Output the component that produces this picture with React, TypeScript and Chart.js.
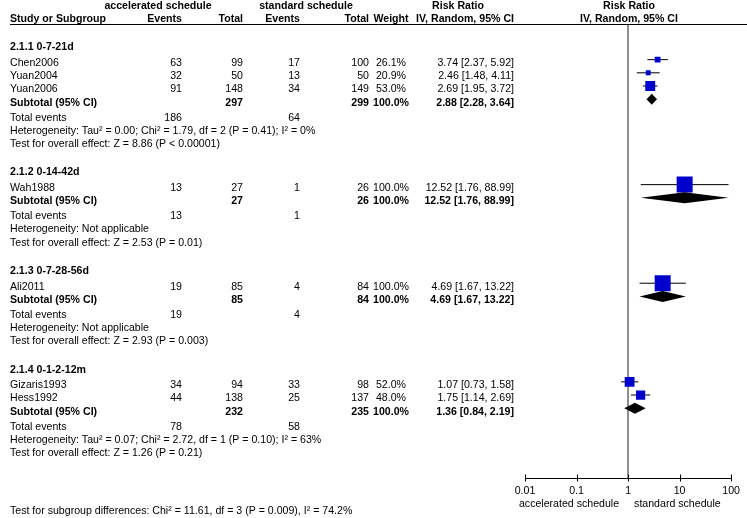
import React, { useEffect, useRef } from 'react';
import { Chart, registerables } from 'chart.js';

Chart.register(...registerables);

// ---------------- data ----------------
const groupLabels = ['2.1.1 0-7-21d', '2.1.2 0-14-42d', '2.1.3 0-7-28-56d', '2.1.4 0-1-2-12m'];

const studies = ['Chen2006', 'Yuan2004', 'Yuan2006', 'Wah1988', 'Ali2011', 'Gizaris1993', 'Hess1992'];
const studyGroup = [0, 0, 0, 1, 2, 3, 3];
const accelEvents = [63, 32, 91, 13, 19, 34, 44];
const accelTotal = [99, 50, 148, 27, 85, 94, 138];
const stdEvents = [17, 13, 34, 1, 4, 33, 25];
const stdTotal = [100, 50, 149, 26, 84, 98, 137];
const weights = [26.1, 20.9, 53.0, 100.0, 100.0, 52.0, 48.0];
const rr = [3.74, 2.46, 2.69, 12.52, 4.69, 1.07, 1.75];
const rrLow = [2.37, 1.48, 1.95, 1.76, 1.67, 0.73, 1.14];
const rrHigh = [5.92, 4.11, 3.72, 88.99, 13.22, 1.58, 2.69];

const subAccelTotal = [297, 27, 85, 232];
const subStdTotal = [299, 26, 84, 235];
const subWeight = [100.0, 100.0, 100.0, 100.0];
const subRR = [2.88, 12.52, 4.69, 1.36];
const subLow = [2.28, 1.76, 1.67, 0.84];
const subHigh = [3.64, 88.99, 13.22, 2.19];
const totalEventsAccel = [186, 13, 19, 78];
const totalEventsStd = [64, 1, 4, 58];
const heterogeneity = [
  'Heterogeneity: Tau² = 0.00; Chi² = 1.79, df = 2 (P = 0.41); I² = 0%',
  'Heterogeneity: Not applicable',
  'Heterogeneity: Not applicable',
  'Heterogeneity: Tau² = 0.07; Chi² = 2.72, df = 1 (P = 0.10); I² = 63%',
];
const overallEffect = [
  'Test for overall effect: Z = 8.86 (P < 0.00001)',
  'Test for overall effect: Z = 2.53 (P = 0.01)',
  'Test for overall effect: Z = 2.93 (P = 0.003)',
  'Test for overall effect: Z = 1.26 (P = 0.21)',
];
const subgroupTest = 'Test for subgroup differences: Chi² = 11.61, df = 3 (P = 0.009), I² = 74.2%';
const xTicks = [0.01, 0.1, 1, 10, 100];
const favoursLeft = 'accelerated schedule';
const favoursRight = 'standard schedule';

// ---------------- layout ----------------
const W = 747;
const H = 518;
const AXIS_Y = 478;
const PLOT_LEFT = 525;
const PLOT_RIGHT = 733;
const FONT = '"Liberation Sans", Arial, Helvetica, sans-serif';
const FS = 10.6;
const ROW = 13.5;
const HEAD_GAP = 16;
const SUB_GAP = 15.5;
const GROUP_GAP = 29;
const FIRST_HEAD = 37;
const MARK_DY = -3.5;

const COL_NAME = 10;
const COL_AE = 182;
const COL_AT = 243;
const COL_SE = 300;
const COL_ST = 369;
const COL_W_CENTER = 391;
const COL_RR = 514;

const fmt2 = (v: number) => v.toFixed(2);
const ciText = (m: number, l: number, h: number) => `${fmt2(m)} [${fmt2(l)}, ${fmt2(h)}]`;

// compute row positions (in the y-scale units)
const studyY: number[] = [];
const headY: number[] = [];
const subY: number[] = [];
const teY: number[] = [];
const hetY: number[] = [];
const testY: number[] = [];
(() => {
  let y = FIRST_HEAD;
  for (let g = 0; g < groupLabels.length; g++) {
    headY[g] = y;
    y += HEAD_GAP;
    studies.forEach((_, i) => {
      if (studyGroup[i] === g) {
        studyY[i] = y;
        y += ROW;
      }
    });
    subY[g] = y;
    y += SUB_GAP;
    teY[g] = y;
    y += ROW;
    hetY[g] = y;
    y += ROW;
    testY[g] = y;
    y += GROUP_GAP;
  }
})();

const boxSide = (w: number) => 16 * Math.pow(w / 100, 0.75);

export default function App() {
  const ref = useRef<HTMLCanvasElement | null>(null);

  useEffect(() => {
    document.body.style.margin = '0';
    const canvas = ref.current;
    if (!canvas) return;

    const forestPlugin = {
      id: 'forest',
      beforeDatasetsDraw(chart: any) {
        const { ctx, scales } = chart;
        const xs = scales.x;
        ctx.save();
        const x1 = Math.round(xs.getPixelForValue(1));
        ctx.strokeStyle = '#8f8f8f';
        ctx.lineWidth = 2;
        ctx.beginPath();
        ctx.moveTo(x1, 24.5);
        ctx.lineTo(x1, AXIS_Y);
        ctx.stroke();
        ctx.restore();
      },
      afterDatasetsDraw(chart: any) {
        const { ctx, scales } = chart;
        const xs = scales.x;
        const ys = scales.y;
        ctx.save();
        ctx.fillStyle = '#000';
        for (let g = 0; g < groupLabels.length; g++) {
          const cy = ys.getPixelForValue(subY[g] + MARK_DY);
          const xl = xs.getPixelForValue(subLow[g]);
          const xm = xs.getPixelForValue(subRR[g]);
          const xh = xs.getPixelForValue(subHigh[g]);
          const hh = 5.5;
          ctx.beginPath();
          ctx.moveTo(xl, cy);
          ctx.lineTo(xm, cy - hh);
          ctx.lineTo(xh, cy);
          ctx.lineTo(xm, cy + hh);
          ctx.closePath();
          ctx.fill();
        }
        ctx.restore();
      },
      afterDraw(chart: any) {
        const { ctx, scales } = chart;
        const xs = scales.x;
        const ys = scales.y;
        const py = (v: number) => ys.getPixelForValue(v);
        const txt = (s: string, x: number, y: number, align: CanvasTextAlign, bold = false) => {
          ctx.font = `${bold ? 'bold ' : ''}${FS}px ${FONT}`;
          ctx.textAlign = align;
          ctx.textBaseline = 'middle';
          ctx.fillStyle = '#000';
          ctx.fillText(s, x, y);
        };
        ctx.save();
        ctx.strokeStyle = '#000';
        ctx.lineWidth = 1;
        xTicks.forEach((v) => {
          const x = Math.round(xs.getPixelForValue(v)) + 0.5;
          ctx.beginPath();
          ctx.moveTo(x, AXIS_Y - 3.5);
          ctx.lineTo(x, AXIS_Y + 3.5);
          ctx.stroke();
        });
        ctx.beginPath();
        ctx.moveTo(COL_NAME, 24.5);
        ctx.lineTo(W, 24.5);
        ctx.stroke();

        const rrCenter = COL_RR - 56;
        const plotCenter = (PLOT_LEFT + PLOT_RIGHT) / 2;
        txt('accelerated schedule', 158, 6, 'center', true);
        txt('standard schedule', 306, 6, 'center', true);
        txt('Risk Ratio', rrCenter, 6, 'center', true);
        txt('Risk Ratio', plotCenter, 6, 'center', true);
        txt('Study or Subgroup', COL_NAME, 19, 'left', true);
        txt('Events', COL_AE, 19, 'right', true);
        txt('Total', COL_AT, 19, 'right', true);
        txt('Events', COL_SE, 19, 'right', true);
        txt('Total', COL_ST, 19, 'right', true);
        txt('Weight', COL_W_CENTER, 19, 'center', true);
        txt('IV, Random, 95% CI', COL_RR, 19, 'right', true);
        txt('IV, Random, 95% CI', plotCenter, 19, 'center', true);

        for (let g = 0; g < groupLabels.length; g++) {
          txt(groupLabels[g], COL_NAME, py(headY[g]), 'left', true);
          studies.forEach((name, i) => {
            if (studyGroup[i] !== g) return;
            const y = py(studyY[i]);
            txt(name, COL_NAME, y, 'left');
            txt(String(accelEvents[i]), COL_AE, y, 'right');
            txt(String(accelTotal[i]), COL_AT, y, 'right');
            txt(String(stdEvents[i]), COL_SE, y, 'right');
            txt(String(stdTotal[i]), COL_ST, y, 'right');
            txt(weights[i].toFixed(1) + '%', COL_W_CENTER, y, 'center');
            txt(ciText(rr[i], rrLow[i], rrHigh[i]), COL_RR, y, 'right');
          });
          const sy = py(subY[g]);
          txt('Subtotal (95% CI)', COL_NAME, sy, 'left', true);
          txt(String(subAccelTotal[g]), COL_AT, sy, 'right', true);
          txt(String(subStdTotal[g]), COL_ST, sy, 'right', true);
          txt(subWeight[g].toFixed(1) + '%', COL_W_CENTER, sy, 'center', true);
          txt(ciText(subRR[g], subLow[g], subHigh[g]), COL_RR, sy, 'right', true);
          const ty = py(teY[g]);
          txt('Total events', COL_NAME, ty, 'left');
          txt(String(totalEventsAccel[g]), COL_AE, ty, 'right');
          txt(String(totalEventsStd[g]), COL_SE, ty, 'right');
          txt(heterogeneity[g], COL_NAME, py(hetY[g]), 'left');
          txt(overallEffect[g], COL_NAME, py(testY[g]), 'left');
        }

        const x1 = xs.getPixelForValue(1);
        txt(favoursLeft, x1 - 9, 504.5, 'right');
        txt(favoursRight, x1 + 6, 504.5, 'left');
        txt(subgroupTest, COL_NAME, 511.5, 'left');
        ctx.restore();
      },
    };

    const squares = studies.map((_, i) => ({ x: rr[i], y: studyY[i] + MARK_DY }));
    const ciSets = studies.map((_, i) => ({
      type: 'scatter' as const,
      data: [
        { x: rrLow[i], y: studyY[i] + MARK_DY },
        { x: rrHigh[i], y: studyY[i] + MARK_DY },
      ],
      showLine: true,
      borderColor: '#000',
      borderWidth: 1,
      pointRadius: 0,
      order: 2,
    }));

    const chart = new Chart(canvas, {
      type: 'scatter',
      data: {
        datasets: [
          {
            data: squares,
            pointStyle: 'rect',
            pointRadius: (c: any) => boxSide(weights[c.dataIndex]) / Math.SQRT2,
            pointHoverRadius: (c: any) => boxSide(weights[c.dataIndex]) / Math.SQRT2,
            backgroundColor: '#0000cc',
            borderWidth: 0,
            order: 1,
          } as any,
          ...ciSets,
        ],
      },
      options: {
        responsive: false,
        animation: false,
        events: [],
        layout: { padding: { left: PLOT_LEFT, right: W - PLOT_RIGHT, top: 0, bottom: 0 } },
        plugins: { legend: { display: false }, tooltip: { enabled: false } },
        scales: {
          x: {
            type: 'logarithmic',
            min: 0.01,
            max: 100,
            position: 'bottom',
            afterBuildTicks: (s: any) => {
              s.ticks = xTicks.map((v) => ({ value: v }));
            },
            afterFit: (s: any) => {
              s.height = H - AXIS_Y;
            },
            ticks: {
              callback: (v: any) => String(v),
              font: { family: FONT, size: FS },
              color: '#000',
              padding: 7,
              maxRotation: 0,
              autoSkip: false,
            },
            grid: { display: false, drawTicks: false },
            border: { display: true, color: '#000', width: 1 },
          },
          y: {
            type: 'linear',
            min: 0,
            max: AXIS_Y,
            reverse: true,
            display: false,
          },
        },
      },
      plugins: [forestPlugin],
    } as any);

    return () => chart.destroy();
  }, []);

  return (
    <div style={{ width: W, height: H, position: 'relative', background: '#fff' }}>
      <canvas ref={ref} width={W} height={H} style={{ display: 'block' }} />
    </div>
  );
}
